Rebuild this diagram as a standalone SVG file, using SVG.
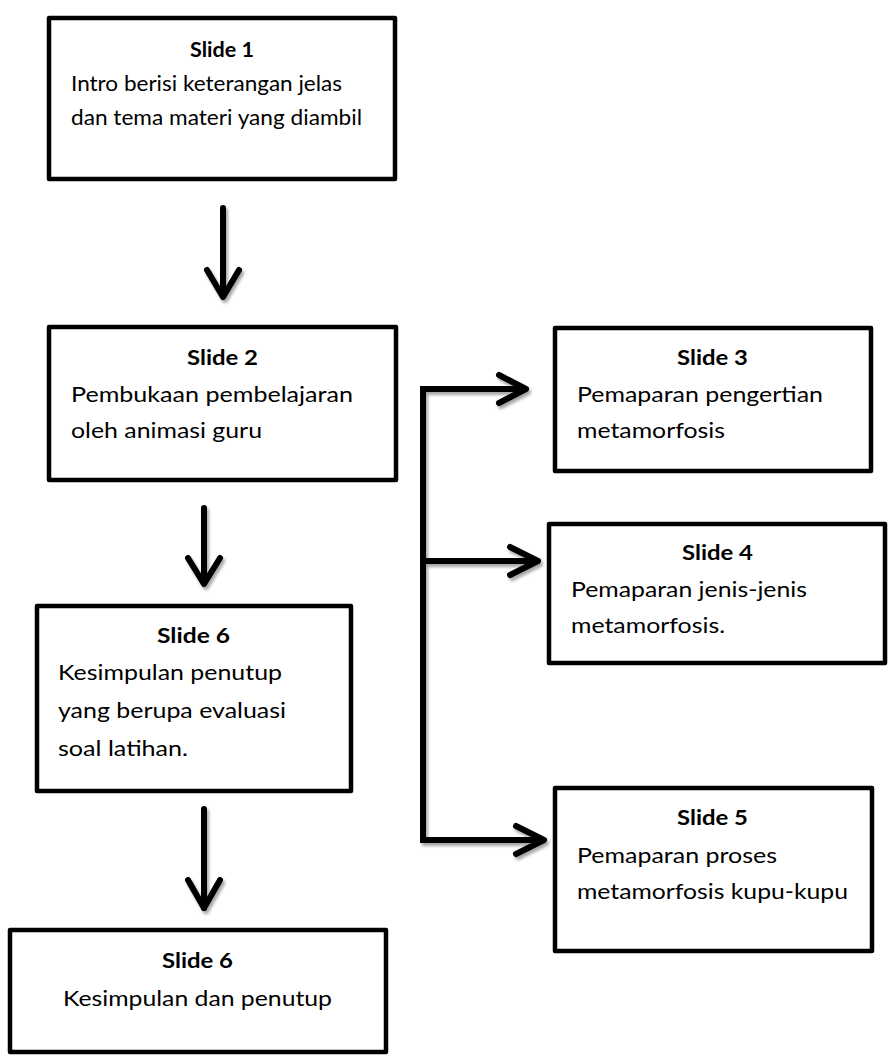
<svg xmlns="http://www.w3.org/2000/svg" width="889" height="1057" viewBox="0 0 889 1057">
<defs>
<filter id="sh" x="-20%" y="-20%" width="140%" height="140%">
<feDropShadow dx="2" dy="3" stdDeviation="1.5" flood-color="#000" flood-opacity="0.35"/>
</filter>
<style>
.box{fill:#fff;stroke:#000;stroke-width:4.5;stroke-linejoin:round}
.t{font-family:Lato,"Open Sans",sans-serif;font-size:21.5px;fill:#000}
.h{font-weight:bold}
.c{fill:none;stroke:#000;stroke-width:6;stroke-linecap:round;stroke-linejoin:round}
</style>
</defs>
<rect width="889" height="1057" fill="#fff"/>
<g id="connectors" filter="url(#sh)">
<line class="c" x1="223" y1="208" x2="223" y2="296"/>
<polyline class="c" points="207,270 223,297 239,270"/>
<line class="c" x1="204" y1="508" x2="204" y2="583"/>
<polyline class="c" points="188,558 204,584 220,558"/>
<line class="c" x1="204" y1="809" x2="204" y2="908"/>
<polyline class="c" points="188,880 204,908 220,880"/>
<path class="c" d="M525,389 H423 V840 H543" style="stroke-linecap:butt;stroke-linejoin:miter"/>
<polyline class="c" points="499,375 526,389 499,403"/>
<line class="c" x1="423" y1="561" x2="537" y2="561"/>
<polyline class="c" points="510,547 538,561 510,575"/>
<polyline class="c" points="516,826 544,840 516,854"/>
</g>
<g id="slide1">
<rect class="box" x="49" y="18" width="346" height="161"/>
<text class="t h" x="190" y="57" textLength="64" lengthAdjust="spacingAndGlyphs">Slide 1</text>
<text class="t" x="71" y="91" textLength="271" lengthAdjust="spacingAndGlyphs">Intro berisi keterangan jelas</text>
<text class="t" x="71" y="125" textLength="291" lengthAdjust="spacingAndGlyphs">dan tema materi yang diambil</text>
</g>
<g id="slide2">
<rect class="box" x="49" y="327" width="347" height="153"/>
<text class="t h" x="187" y="365" textLength="71" lengthAdjust="spacingAndGlyphs">Slide 2</text>
<text class="t" x="71" y="402" textLength="282" lengthAdjust="spacingAndGlyphs">Pembukaan pembelajaran</text>
<text class="t" x="71" y="438" textLength="191" lengthAdjust="spacingAndGlyphs">oleh animasi guru</text>
</g>
<g id="slide3">
<rect class="box" x="555" y="328" width="316" height="143"/>
<text class="t h" x="677" y="365" textLength="71" lengthAdjust="spacingAndGlyphs">Slide 3</text>
<text class="t" x="577" y="402" textLength="246" lengthAdjust="spacingAndGlyphs">Pemaparan pengertian</text>
<text class="t" x="577" y="438" textLength="148" lengthAdjust="spacingAndGlyphs">metamorfosis</text>
</g>
<g id="slide4">
<rect class="box" x="549" y="524" width="336" height="139"/>
<text class="t h" x="682" y="560" textLength="71" lengthAdjust="spacingAndGlyphs">Slide 4</text>
<text class="t" x="571" y="597" textLength="236" lengthAdjust="spacingAndGlyphs">Pemaparan jenis-jenis</text>
<text class="t" x="571" y="633" textLength="154" lengthAdjust="spacingAndGlyphs">metamorfosis.</text>
</g>
<g id="slide6a">
<rect class="box" x="37" y="606" width="314" height="185"/>
<text class="t h" x="157" y="643" textLength="73" lengthAdjust="spacingAndGlyphs">Slide 6</text>
<text class="t" x="58" y="680" textLength="224" lengthAdjust="spacingAndGlyphs">Kesimpulan penutup</text>
<text class="t" x="58" y="718" textLength="228" lengthAdjust="spacingAndGlyphs">yang berupa evaluasi</text>
<text class="t" x="58" y="756" textLength="130" lengthAdjust="spacingAndGlyphs">soal latihan.</text>
</g>
<g id="slide5">
<rect class="box" x="555" y="788" width="317" height="163"/>
<text class="t h" x="677" y="825" textLength="71" lengthAdjust="spacingAndGlyphs">Slide 5</text>
<text class="t" x="577" y="863" textLength="200" lengthAdjust="spacingAndGlyphs">Pemaparan proses</text>
<text class="t" x="577" y="899" textLength="271" lengthAdjust="spacingAndGlyphs">metamorfosis kupu-kupu</text>
</g>
<g id="slide6b">
<rect class="box" x="10" y="930" width="376" height="122"/>
<text class="t h" x="162" y="968" textLength="71" lengthAdjust="spacingAndGlyphs">Slide 6</text>
<text class="t" x="63" y="1006" textLength="269" lengthAdjust="spacingAndGlyphs">Kesimpulan dan penutup</text>
</g>
</svg>
